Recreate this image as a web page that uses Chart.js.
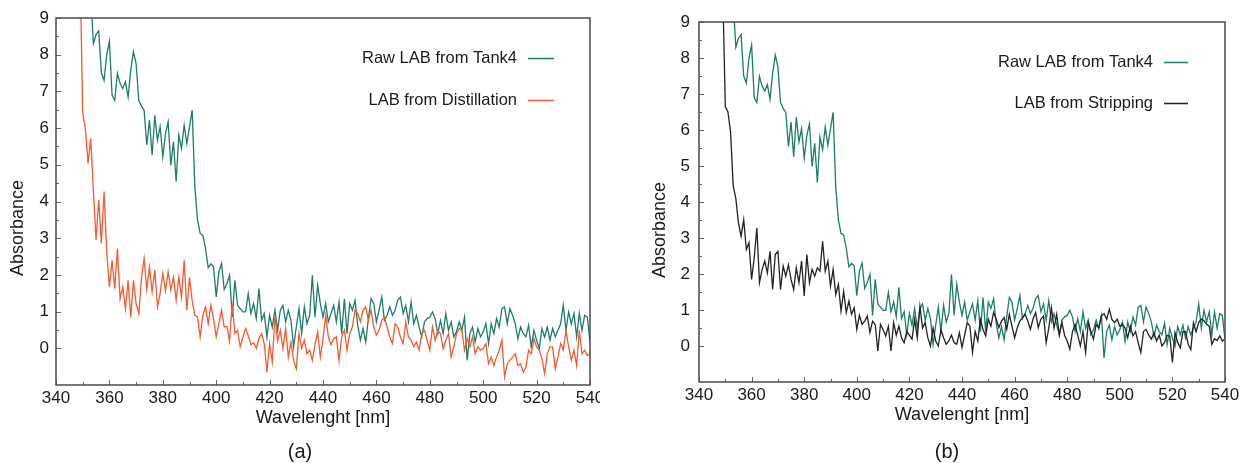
<!DOCTYPE html>
<html><head><meta charset="utf-8">
<script src="https://cdn.jsdelivr.net/npm/chart.js@4.4.1/dist/chart.umd.min.js"></script>
<style>
html,body{margin:0;padding:0;background:#fff;}
body{width:1246px;height:463px;position:relative;overflow:hidden;}
#wa{position:absolute;left:0;top:0;width:600px;height:463px;overflow:hidden;}
#wb{position:absolute;left:620px;top:0;width:626px;height:463px;overflow:hidden;}
canvas{display:block;}
</style></head><body>
<div id="wa"><canvas id="ca" width="620" height="463" style="width:620px;height:463px"></canvas></div>
<div id="wb"><canvas id="cb" width="626" height="463" style="width:626px;height:463px"></canvas></div>
<script>
// ---------- DATA ----------
const wavelengths = [
340,341,342,343,344,345,346,347,348,349,
350,351,352,353,354,355,356,357,358,359,
360,361,362,363,364,365,366,367,368,369,
370,371,372,373,374,375,376,377,378,379,
380,381,382,383,384,385,386,387,388,389,
390,391,392,393,394,395,396,397,398,399,
400,401,402,403,404,405,406,407,408,409,
410,411,412,413,414,415,416,417,418,419,
420,421,422,423,424,425,426,427,428,429,
430,431,432,433,434,435,436,437,438,439,
440,441,442,443,444,445,446,447,448,449,
450,451,452,453,454,455,456,457,458,459,
460,461,462,463,464,465,466,467,468,469,
470,471,472,473,474,475,476,477,478,479,
480,481,482,483,484,485,486,487,488,489,
490,491,492,493,494,495,496,497,498,499,
500,501,502,503,504,505,506,507,508,509,
510,511,512,513,514,515,516,517,518,519,
520,521,522,523,524,525,526,527,528,529,
530,531,532,533,534,535,536,537,538,539,
540];

// Raw LAB from Tank4 (same in both panels)
const tank4 = [
null,null,null,null,null,null,null,null,null,null,
14,12,11,9.6,8.3,8.55,8.65,7.5,7.3,8.0,
8.36,6.9,6.76,7.49,7.22,7.08,7.26,6.85,7.58,8.08,
7.76,6.76,6.6,6.49,5.54,6.22,5.26,6.35,5.67,6.04,
5.22,5.85,6.17,4.99,5.63,4.54,5.81,5.45,6.08,5.58,
6.04,6.49,4.4,3.5,3.13,3.08,2.72,2.2,2.3,2.22,
1.4,2.08,2.31,1.6,1.76,1.99,0.85,1.85,1.17,1.08,
0.99,0.99,1.49,0.95,1.22,0.81,1.63,0.76,0.95,0.31,
0.9,0.58,1.04,0.49,1.04,1.17,0.72,1.04,0.76,0.04,
0.58,1.08,0.4,1.13,0.67,0.9,1.99,0.85,1.72,1.22,
0.85,1.22,0.72,0.95,1.17,0.72,1.26,0.4,1.35,0.4,
1.22,1.04,1.31,0.63,0.22,0.54,0.17,0.81,1.35,1.22,
0.72,1.04,1.4,0.76,0.9,1.13,0.9,1.04,1.31,1.4,
0.95,1.17,0.72,1.26,0.67,0.9,0.58,0.31,0.72,0.81,
0.85,0.99,0.81,0.4,0.76,0.4,0.95,0.49,0.72,0.31,
0.45,0.72,0.49,0.85,-0.33,0.4,0.58,0.17,0.54,0.31,
0.45,0.67,0.13,0.67,0.4,0.81,0.58,1.08,1.13,0.67,
1.08,0.9,0.67,0.26,0.58,0.4,0.31,0.63,0.04,0.49,
0.22,-0.01,0.54,0.31,0.58,0.22,0.54,0.31,0.49,0.67,
1.17,0.49,0.99,0.67,0.95,0.31,0.95,0.49,0.9,0.85,
0.17];

// LAB from Distillation (panel a)
const distillation = [
null,null,null,null,null,null,null,null,14,10.5,
6.4,6.0,5.04,5.72,4.3,2.95,4.04,2.86,4.27,2.6,
1.67,2.4,1.63,2.72,1.35,1.67,1.08,1.85,0.85,1.85,
1.22,0.95,1.9,2.45,1.6,2.22,1.54,2.13,1.13,1.49,
2.04,1.58,2.08,1.6,1.94,1.31,1.94,1.4,2.4,1.04,
1.94,1.3,0.9,0.85,0.31,0.9,1.13,0.67,1.17,0.81,
0.31,0.67,1.04,0.58,0.6,0.2,1.22,0.4,0.49,0.04,
0.3,0.54,0.35,0.1,0.15,0.0,0.26,0.4,0.13,-0.65,
0.13,-0.37,0.9,0.2,0.49,0.0,0.54,-0.24,0.17,-0.33,
-0.56,0.4,0.0,0.22,-0.15,-0.05,-0.33,0.1,0.45,-0.24,
0.26,0.9,0.31,0.1,0.26,0.31,-0.33,0.31,0.49,-0.05,
0.4,0.58,1.04,0.95,0.72,1.04,1.13,0.76,1.04,0.58,
0.36,0.49,0.76,0.85,0.58,0.31,0.13,0.67,0.58,0.31,
0.13,0.72,0.31,0.22,0.04,0.17,-0.05,0.4,0.49,0.22,
-0.05,0.58,0.22,0.49,0.4,-0.01,0.22,0.4,-0.24,0.04,
0.4,0.54,0.49,-0.05,0.26,0.04,0.31,-0.15,0.04,-0.05,
-0.01,0.13,-0.42,-0.24,-0.47,-0.24,-0.05,0.22,-0.78,-0.42,
-0.33,-0.24,-0.15,-0.47,-0.42,-0.65,-0.51,-0.05,-0.15,0.26,
0.04,-0.05,-0.28,-0.69,-0.15,0.04,0.04,-0.56,-0.24,0.13,
-0.05,0.49,0.04,-0.33,-0.05,-0.47,0.49,-0.15,-0.05,-0.2,
-0.15];

// LAB from Stripping (panel b)
const stripping = [
null,null,null,null,null,null,null,null,14,10,
6.65,6.5,5.95,4.45,4.1,3.42,3.05,3.51,2.68,2.87,
1.85,2.45,3.28,1.76,2.13,2.36,2.03,2.63,1.57,2.54,
2.63,1.57,2.22,1.94,2.26,1.85,1.57,2.17,1.76,2.36,
1.39,2.54,1.76,2.13,1.94,2.17,2.08,2.91,2.08,2.36,
1.66,2.13,1.43,1.71,0.97,1.52,0.93,1.25,0.88,1.06,
0.46,0.85,0.6,0.69,0.83,0.37,0.69,0.6,-0.14,0.6,
0.46,0.28,0.55,-0.14,0.65,0.3,0.55,0.23,0.09,0.4,
0.3,0.19,0.74,0.23,1.1,0.5,0.65,0.23,0.0,0.5,
0.14,0.0,0.46,0.23,0.05,0.14,0.3,0.09,0.05,0.37,
-0.04,0.3,0.65,0.55,-0.18,0.4,0.14,0.74,0.46,0.28,
0.74,0.55,0.93,0.75,0.51,0.69,0.79,0.46,0.88,0.55,
0.23,0.5,0.69,0.79,0.88,0.7,0.46,0.75,0.93,0.51,
0.75,0.83,0.09,0.5,1.06,0.5,0.88,0.3,0.65,0.3,
0.14,-0.09,0.4,0.6,0.3,0.0,0.4,-0.18,0.65,0.4,
0.19,0.6,0.5,0.83,0.9,0.74,1.02,0.74,0.65,0.75,
0.55,0.6,0.5,0.23,0.55,0.28,0.4,0.09,-0.18,0.4,
0.46,0.3,0.19,0.37,0.14,0.3,0.0,0.1,0.3,0.28,
-0.46,0.37,0.1,-0.05,0.4,0.4,0.05,-0.1,0.65,0.4,
0.65,0.75,0.7,0.6,0.55,0.05,0.2,0.15,0.28,0.14,
0.19];

const xTicks = [340,360,380,400,420,440,460,480,500,520,540];
const yTicks = [0,1,2,3,4,5,6,7,8,9];

// ---------- STYLE ----------
const TEAL = '#1d7d6d';
const ORANGE = '#f55a30';
const BLACK = '#222222';
const FONT = "'Liberation Sans', Arial, Helvetica, sans-serif";
const TXT = '#1a1a1a';

function pts(arr){ return wavelengths.map((w,i)=>({x:w, y:arr[i]})); }

const frameTicks = {
  id: 'frameTicks',
  afterDatasetsDraw(chart, args, o) {
    const {ctx, chartArea: a, scales: {x, y}} = chart;
    ctx.save();
    ctx.strokeStyle = o.tickColor;
    ctx.lineWidth = 1;
    const xs = x.ticks.map(t => t.value);
    for (let i = 0; i < xs.length; i++) {
      const px = Math.round(x.getPixelForValue(xs[i])) + 0.5;
      ctx.beginPath(); ctx.moveTo(px, a.bottom); ctx.lineTo(px, a.bottom - o.majorLen); ctx.stroke();
      if (i < xs.length - 1) {
        const pm = Math.round(x.getPixelForValue((xs[i] + xs[i+1]) / 2)) + 0.5;
        ctx.beginPath(); ctx.moveTo(pm, a.bottom); ctx.lineTo(pm, a.bottom - o.minorLen); ctx.stroke();
      }
    }
    const ys = y.ticks.map(t => t.value);
    for (let i = 0; i < ys.length; i++) {
      const py = Math.round(y.getPixelForValue(ys[i])) + 0.5;
      ctx.beginPath(); ctx.moveTo(a.left, py); ctx.lineTo(a.left + o.majorLen, py); ctx.stroke();
      if (i < ys.length - 1) {
        const pm = Math.round(y.getPixelForValue((ys[i] + ys[i+1]) / 2)) + 0.5;
        ctx.beginPath(); ctx.moveTo(a.left, pm); ctx.lineTo(a.left + o.minorLen, pm); ctx.stroke();
      }
    }
    ctx.strokeStyle = o.frameColor;
    ctx.lineWidth = o.frameWidth;
    ctx.strokeRect(a.left, a.top, a.right - a.left, a.bottom - a.top);
    ctx.restore();
  }
};

const insideLegend = {
  id: 'insideLegend',
  afterDraw(chart, args, o) {
    const {ctx, chartArea: a} = chart;
    ctx.save();
    ctx.font = o.font;
    ctx.textAlign = 'right';
    ctx.textBaseline = 'middle';
    chart.data.datasets.forEach((ds, i) => {
      const yy = a.top + o.firstRow + i * o.rowGap;
      ctx.fillStyle = o.textColor;
      ctx.fillText(ds.label, a.right - o.textRight, yy);
      ctx.strokeStyle = ds.borderColor;
      ctx.lineWidth = o.lineWidth;
      ctx.beginPath();
      ctx.moveTo(a.right - o.lineStart, Math.round(yy) + 0.5);
      ctx.lineTo(a.right - o.lineEnd, Math.round(yy) + 0.5);
      ctx.stroke();
    });
    ctx.restore();
  }
};

const textLabels = {
  id: 'textLabels',
  afterDraw(chart, args, o) {
    const ctx = chart.ctx;
    ctx.save();
    ctx.fillStyle = o.color;
    ctx.textAlign = 'center';
    ctx.textBaseline = 'middle';
    ctx.font = o.subFont;
    ctx.fillText(o.sub, o.subX, o.subY);
    ctx.font = o.yFont;
    ctx.translate(o.yX, o.yY);
    ctx.rotate(-Math.PI / 2);
    ctx.fillText(o.yText, 0, 0);
    ctx.restore();
  }
};

function makeChart(id, second, cfg) {
  return new Chart(document.getElementById(id), {
    type: 'line',
    data: {
      datasets: [
        {label: 'Raw LAB from Tank4', data: pts(tank4), borderColor: TEAL, order: 1},
        {label: cfg.label2, data: pts(second), borderColor: cfg.color2, order: 0}
      ]
    },
    options: {
      responsive: false,
      animation: false,
      layout: {padding: cfg.padding},
      elements: {point: {radius: 0}, line: {borderWidth: 1.3, tension: 0}},
      plugins: {
        legend: {display: false},
        tooltip: {enabled: false},
        frameTicks: {tickColor: '#666', frameColor: '#4a4a4a', frameWidth: 1.5, majorLen: 5, minorLen: 3},
        insideLegend: {font: '16.5px ' + FONT, textColor: TXT, firstRow: cfg.legRow1, rowGap: cfg.legGap, textRight: cfg.legTextRight, lineStart: cfg.legLineStart, lineEnd: cfg.legLineEnd, lineWidth: 1.5},
        textLabels: {color: TXT, sub: cfg.sub, subX: cfg.subX, subY: 452, subFont: '20px ' + FONT,
                     yText: 'Absorbance', yX: cfg.yTitleX, yY: cfg.yTitleY, yFont: '18px ' + FONT}
      },
      scales: {
        x: {
          type: 'linear', min: 340, max: 540,
          afterBuildTicks: s => { s.ticks = xTicks.map(v => ({value: v})); },
          ticks: {font: {family: FONT, size: 17}, color: TXT, padding: 3, maxRotation: 0, autoSkip: false},
          grid: {display: false, drawTicks: false},
          border: {display: false},
          title: {display: true, text: 'Wavelenght [nm]', font: {family: FONT, size: 18}, color: TXT, padding: 0},
          afterFit: s => { s.height = 44; }
        },
        y: {
          type: 'linear', min: -1, max: 9,
          afterBuildTicks: s => { s.ticks = yTicks.map(v => ({value: v})); },
          ticks: {font: {family: FONT, size: 17}, color: TXT, padding: cfg.yPad},
          grid: {display: false, drawTicks: false},
          border: {display: false},
          title: {display: false},
          afterFit: s => { s.width = cfg.yw; }
        }
      }
    },
    plugins: [frameTicks, insideLegend, textLabels]
  });
}

makeChart('ca', distillation, {
  label2: 'LAB from Distillation', color2: ORANGE,
  padding: {left: 0, top: 18, right: 30, bottom: 34},
  yw: 56, yPad: 7, yTitleX: 18, yTitleY: 228,
  legRow1: 40, legGap: 42, legTextRight: 73, legLineStart: 62, legLineEnd: 36,
  sub: '(a)', subX: 300
});
makeChart('cb', stripping, {
  label2: 'LAB from Stripping', color2: BLACK,
  padding: {left: 25, top: 22, right: 21, bottom: 37},
  yw: 54, yPad: 9, yTitleX: 40, yTitleY: 230,
  legRow1: 40, legGap: 41, legTextRight: 72, legLineStart: 61, legLineEnd: 37,
  sub: '(b)', subX: 327
});
</script>
</body></html>
